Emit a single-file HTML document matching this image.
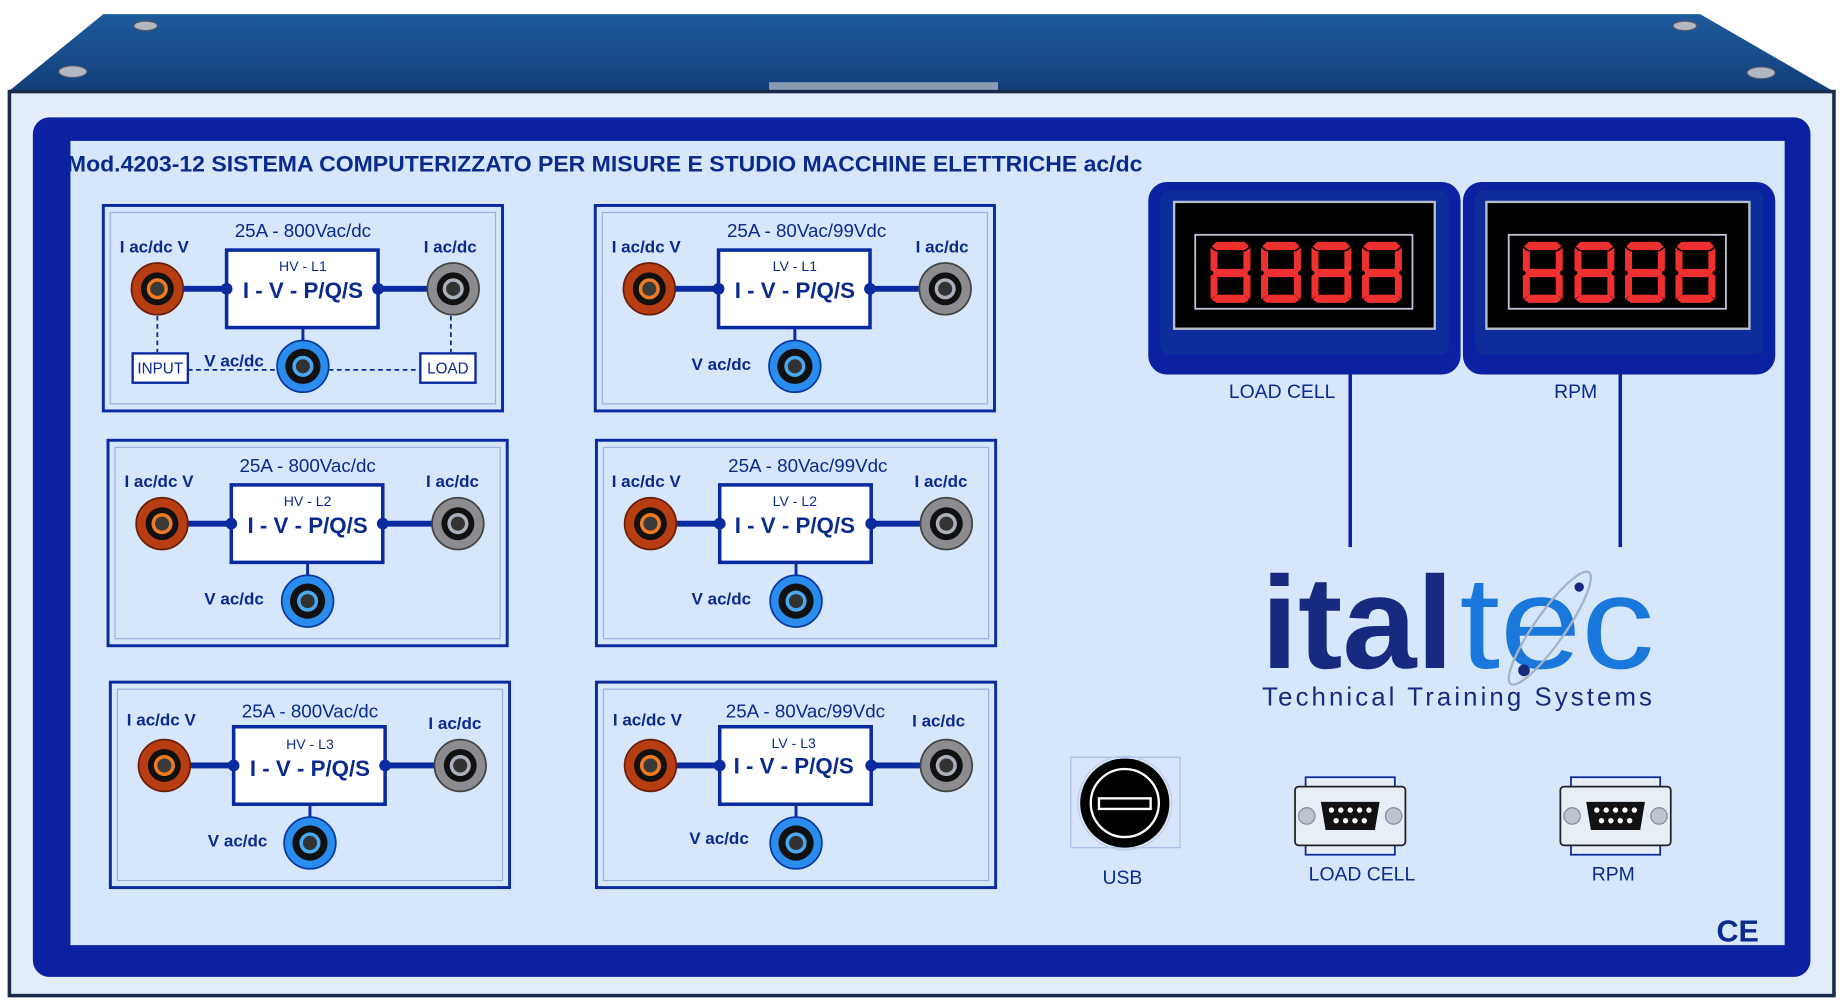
<!DOCTYPE html>
<html><head><meta charset="utf-8"><style>
html,body{margin:0;padding:0;background:#fff;}
svg{display:block;}
text{font-family:"Liberation Sans",Arial,sans-serif;}
</style></head><body>
<svg width="1841" height="1001" viewBox="0 0 1568 852.6" preserveAspectRatio="none" xmlns="http://www.w3.org/2000/svg">
<defs>
<linearGradient id="lid" x1="0" y1="0" x2="0" y2="1"><stop offset="0" stop-color="#1d5a9c"/><stop offset="1" stop-color="#123f7a"/></linearGradient>
<g id="jr"><circle r="22" fill="#b83d12" stroke="#6a2008" stroke-width="1.5"/><circle r="14" fill="#111"/><circle r="9" fill="#f07a22"/><circle r="6" fill="#3a3a3a"/></g>
<g id="jg"><circle r="22" fill="#8c8c90" stroke="#444" stroke-width="1.5"/><circle r="14" fill="#111"/><circle r="9" fill="#aab0bb"/><circle r="6" fill="#333"/></g>
<g id="jb"><circle r="22" fill="#2a8cec" stroke="#0a3aa0" stroke-width="1.5"/><circle r="15" fill="#111"/><circle r="9" fill="#4aa8f0"/><circle r="6" fill="#333"/></g>
<g id="d8" fill="#ee3030"><polygon points="5,0 29,0 33,4 29,7 5,7 1,4"/><polygon points="0,5 4,8 6,8 6,23 3,26 0,24"/><polygon points="34,5 30,8 28,8 28,23 31,26 34,24"/><polygon points="5,23 29,23 32,26.5 29,30 5,30 2,26.5"/><polygon points="0,29 3,27 6,30 6,45 4,46 0,49"/><polygon points="34,29 31,27 28,30 28,45 30,46 34,49"/><polygon points="5,45 29,45 33,49 29,52 5,52 1,49"/></g>
<g id="mod">
<rect x="0" y="0" width="340" height="175" fill="none" stroke="#0a2aa0" stroke-width="2.5"/>
<rect x="6" y="6" width="328" height="163" fill="none" stroke="#9ab0e0" stroke-width="1"/>
<line x1="46" y1="71" x2="105" y2="71" stroke="#0a2aa0" stroke-width="5"/>
<line x1="234" y1="71" x2="298" y2="71" stroke="#0a2aa0" stroke-width="5"/>
<line x1="170" y1="104" x2="170" y2="120" stroke="#0a2aa0" stroke-width="2.5"/>
<rect x="105" y="38" width="129" height="66" fill="#fff" stroke="#0a2aa0" stroke-width="3"/>
<circle cx="105" cy="71" r="5" fill="#0a2aa0"/><circle cx="234" cy="71" r="5" fill="#0a2aa0"/>
<use href="#jr" x="46" y="71"/><use href="#jg" x="298" y="71"/><use href="#jb" x="170" y="137"/>
</g>
<g id="db9">
<rect x="-38" y="-33" width="76" height="10" fill="#e8eef8" stroke="#0a2aa0" stroke-width="1.5"/>
<rect x="-38" y="23" width="76" height="10" fill="#e8eef8" stroke="#0a2aa0" stroke-width="1.5"/>
<rect x="-47" y="-25" width="94" height="50" rx="3" fill="#e8eef6" stroke="#222" stroke-width="1.5"/>
<circle cx="-37" cy="0" r="7" fill="#bcc4d0" stroke="#889"/><circle cx="37" cy="0" r="7" fill="#bcc4d0" stroke="#889"/>
<path d="M-25,-12 H25 L21,12 H-21 Z" fill="#111"/>
<g fill="#fff"><circle cx="-16" cy="-5" r="2.3"/><circle cx="-8" cy="-5" r="2.3"/><circle cx="0" cy="-5" r="2.3"/><circle cx="8" cy="-5" r="2.3"/><circle cx="16" cy="-5" r="2.3"/><circle cx="-12" cy="4" r="2.3"/><circle cx="-4" cy="4" r="2.3"/><circle cx="4" cy="4" r="2.3"/><circle cx="12" cy="4" r="2.3"/></g>
</g>
</defs>
<rect width="1568" height="853" fill="#fff"/>
<polygon points="7,78 88,12 1448,12 1562,78" fill="url(#lid)"/>
<rect x="655" y="70" width="195" height="8" fill="#8a9ab0"/>
<g fill="#b0b8c4" stroke="#556" stroke-width="1"><ellipse cx="62" cy="61" rx="12" ry="5"/><ellipse cx="124" cy="22" rx="10" ry="4"/><ellipse cx="1435" cy="22" rx="10" ry="4"/><ellipse cx="1500" cy="62" rx="12" ry="5"/></g>
<rect x="8" y="78" width="1554" height="770" fill="#e2ecfa" stroke="#1a2a4a" stroke-width="3"/>
<rect x="28" y="100" width="1514" height="732" rx="14" fill="#0a22a2"/>
<rect x="60" y="120" width="1460" height="685" fill="#d6e6fb"/>
<text x="57" y="146" font-size="18.5" font-weight="bold" fill="#0a2a8e" textLength="916" lengthAdjust="spacingAndGlyphs">Mod.4203-12 SISTEMA COMPUTERIZZATO PER MISURE E STUDIO MACCHINE ELETTRICHE ac/dc</text>

<g transform="translate(88,175)" fill="#0a2a8e">
<use href="#mod"/>
<line x1="46" y1="94" x2="46" y2="125" stroke="#0a2aa0" stroke-width="1.5" stroke-dasharray="4,3"/>
<line x1="296" y1="94" x2="296" y2="125" stroke="#0a2aa0" stroke-width="1.5" stroke-dasharray="4,3"/>
<line x1="72" y1="140" x2="148" y2="140" stroke="#0a2aa0" stroke-width="1.5" stroke-dasharray="4,3"/>
<line x1="192" y1="140" x2="270" y2="140" stroke="#0a2aa0" stroke-width="1.5" stroke-dasharray="4,3"/>
<rect x="25" y="126" width="47" height="25" fill="#fff" stroke="#0a2aa0" stroke-width="2"/>
<rect x="270" y="126" width="47" height="25" fill="#fff" stroke="#0a2aa0" stroke-width="2"/>
<text x="48.5" y="143" font-size="13" text-anchor="middle">INPUT</text>
<text x="293.5" y="143" font-size="13" text-anchor="middle">LOAD</text>
<text x="170" y="27" font-size="16" text-anchor="middle">25A - 800Vac/dc</text>
<text x="14" y="40" font-size="14.5" font-weight="bold">I ac/dc V</text>
<text x="318" y="40" font-size="14.5" font-weight="bold" text-anchor="end">I ac/dc</text>
<text x="170" y="56" font-size="12" text-anchor="middle">HV - L1</text>
<text x="170" y="79" font-size="19" font-weight="bold" text-anchor="middle">I - V - P/Q/S</text>
<text x="86" y="137" font-size="14.5" font-weight="bold">V ac/dc</text>
</g>
<g transform="translate(92,375)" fill="#0a2a8e">
<use href="#mod"/>
<text x="170" y="27" font-size="16" text-anchor="middle">25A - 800Vac/dc</text>
<text x="14" y="40" font-size="14.5" font-weight="bold">I ac/dc V</text>
<text x="316" y="40" font-size="14.5" font-weight="bold" text-anchor="end">I ac/dc</text>
<text x="170" y="56" font-size="12" text-anchor="middle">HV - L2</text>
<text x="170" y="79" font-size="19" font-weight="bold" text-anchor="middle">I - V - P/Q/S</text>
<text x="82" y="140" font-size="14.5" font-weight="bold">V ac/dc</text>
</g>
<g transform="translate(94,581)" fill="#0a2a8e">
<use href="#mod"/>
<text x="170" y="30" font-size="16" text-anchor="middle">25A - 800Vac/dc</text>
<text x="14" y="37" font-size="14.5" font-weight="bold">I ac/dc V</text>
<text x="316" y="40" font-size="14.5" font-weight="bold" text-anchor="end">I ac/dc</text>
<text x="170" y="57" font-size="12" text-anchor="middle">HV - L3</text>
<text x="170" y="80" font-size="19" font-weight="bold" text-anchor="middle">I - V - P/Q/S</text>
<text x="83" y="140" font-size="14.5" font-weight="bold">V ac/dc</text>
</g>
<g transform="translate(507,175)" fill="#0a2a8e">
<use href="#mod"/>
<text x="180" y="27" font-size="16" text-anchor="middle">25A - 80Vac/99Vdc</text>
<text x="14" y="40" font-size="14.5" font-weight="bold">I ac/dc V</text>
<text x="318" y="40" font-size="14.5" font-weight="bold" text-anchor="end">I ac/dc</text>
<text x="170" y="56" font-size="12" text-anchor="middle">LV - L1</text>
<text x="170" y="79" font-size="19" font-weight="bold" text-anchor="middle">I - V - P/Q/S</text>
<text x="82" y="140" font-size="14.5" font-weight="bold">V ac/dc</text>
</g>
<g transform="translate(508,375)" fill="#0a2a8e">
<use href="#mod"/>
<text x="180" y="27" font-size="16" text-anchor="middle">25A - 80Vac/99Vdc</text>
<text x="13" y="40" font-size="14.5" font-weight="bold">I ac/dc V</text>
<text x="316" y="40" font-size="14.5" font-weight="bold" text-anchor="end">I ac/dc</text>
<text x="169" y="56" font-size="12" text-anchor="middle">LV - L2</text>
<text x="169" y="79" font-size="19" font-weight="bold" text-anchor="middle">I - V - P/Q/S</text>
<text x="81" y="140" font-size="14.5" font-weight="bold">V ac/dc</text>
</g>
<g transform="translate(508,581)" fill="#0a2a8e">
<use href="#mod"/>
<text x="178" y="30" font-size="16" text-anchor="middle">25A - 80Vac/99Vdc</text>
<text x="14" y="37" font-size="14.5" font-weight="bold">I ac/dc V</text>
<text x="314" y="38" font-size="14.5" font-weight="bold" text-anchor="end">I ac/dc</text>
<text x="168" y="56" font-size="12" text-anchor="middle">LV - L3</text>
<text x="168" y="78" font-size="19" font-weight="bold" text-anchor="middle">I - V - P/Q/S</text>
<text x="79" y="138" font-size="14.5" font-weight="bold">V ac/dc</text>
</g>

<rect x="978" y="155" width="266" height="164" rx="16" fill="#0a22a2"/>
<rect x="988" y="162" width="246" height="140" rx="8" fill="#0c2d9a"/>
<rect x="1000" y="172" width="222" height="108" fill="#000" stroke="#b8c0cc" stroke-width="2"/>
<rect x="1018" y="200" width="185" height="63" fill="none" stroke="#c0c8d8" stroke-width="1.5"/>
<use href="#d8" x="1031" y="206"/><use href="#d8" x="1074" y="206"/><use href="#d8" x="1117" y="206"/><use href="#d8" x="1160" y="206"/>
<rect x="1246" y="155" width="266" height="164" rx="16" fill="#0a22a2"/>
<rect x="1256" y="162" width="246" height="140" rx="8" fill="#0c2d9a"/>
<rect x="1266" y="172" width="224" height="108" fill="#000" stroke="#b8c0cc" stroke-width="2"/>
<rect x="1285" y="200" width="185" height="63" fill="none" stroke="#c0c8d8" stroke-width="1.5"/>
<use href="#d8" x="1297" y="206"/><use href="#d8" x="1341" y="206"/><use href="#d8" x="1384" y="206"/><use href="#d8" x="1427" y="206"/>
<line x1="1150" y1="318" x2="1150" y2="466" stroke="#0a22a2" stroke-width="3"/>
<line x1="1380" y1="318" x2="1380" y2="466" stroke="#0a22a2" stroke-width="3"/>
<text x="1092" y="339" font-size="16.5" fill="#0a2a8e" text-anchor="middle">LOAD CELL</text>
<text x="1342" y="339" font-size="16.5" fill="#0a2a8e" text-anchor="middle">RPM</text>

<text x="1074" y="569" font-size="112" font-weight="bold" fill="#172a80" textLength="164" lengthAdjust="spacingAndGlyphs" font-family="'DejaVu Sans','Liberation Sans',sans-serif">ital</text>
<text x="1243" y="569" font-size="112" fill="#1a78dc" textLength="166" lengthAdjust="spacingAndGlyphs" font-family="'DejaVu Sans','Liberation Sans',sans-serif">tec</text>
<ellipse cx="1320" cy="535" rx="58" ry="13" transform="rotate(-55 1320 535)" fill="none" stroke="#a8b4c4" stroke-width="2"/>
<circle cx="1345" cy="500" r="4" fill="#172a80"/><circle cx="1298" cy="571" r="5" fill="#172a80"/>
<text x="1075" y="601" font-size="22" fill="#172a80" textLength="332" lengthAdjust="spacing" font-family="'DejaVu Sans','Liberation Sans',sans-serif">Technical Training Systems</text>

<rect x="912" y="645" width="93" height="77" fill="#d8e6fb" stroke="#a8bce8" stroke-width="1"/>
<circle cx="958" cy="684" r="40" fill="none" stroke="#c0cce4" stroke-width="1"/>
<circle cx="958" cy="684" r="38" fill="#000"/>
<circle cx="958" cy="684" r="29" fill="none" stroke="#fff" stroke-width="2"/>
<rect x="936" y="680" width="44" height="9" fill="#000" stroke="#fff" stroke-width="2"/>
<text x="956" y="753" font-size="16.5" fill="#0a2a8e" text-anchor="middle">USB</text>
<use href="#db9" x="1150" y="695"/>
<text x="1160" y="750" font-size="16.5" fill="#0a2a8e" text-anchor="middle">LOAD CELL</text>
<use href="#db9" x="1376" y="695"/>
<text x="1374" y="750" font-size="16.5" fill="#0a2a8e" text-anchor="middle">RPM</text>
<text x="1480" y="802" font-size="26" font-weight="bold" fill="#0a2a8e" text-anchor="middle">CE</text>
</svg>
</body></html>
